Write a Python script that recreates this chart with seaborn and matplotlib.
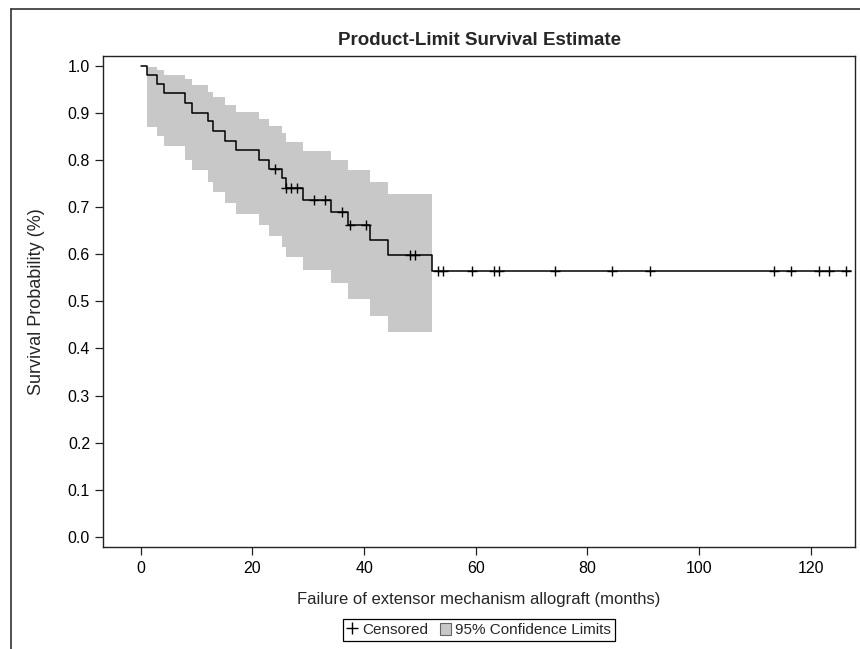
import numpy as np
import pandas as pd
import matplotlib
matplotlib.use("Agg")
import matplotlib.pyplot as plt
from matplotlib.lines import Line2D
from matplotlib.patches import Patch
import seaborn as sns


# failure times (months) and the survival estimate right after each one
event_months = [1.2, 3.0, 4.1, 7.9, 9.1, 12.1, 13.0, 15.1, 17.1, 21.1,
                23.0, 25.3, 26.0, 29.1, 34.1, 37.2, 41.1, 44.2, 52.1]
survival = [0.981, 0.962, 0.942, 0.922, 0.901, 0.882, 0.862, 0.841, 0.821, 0.801,
            0.781, 0.761, 0.740, 0.715, 0.690, 0.662, 0.630, 0.598, 0.564]

# 95% confidence limits between consecutive failures
ci_lower = [0.871, 0.851, 0.830, 0.801, 0.780, 0.754, 0.733, 0.708, 0.685,
            0.662, 0.638, 0.616, 0.594, 0.567, 0.538, 0.506, 0.468, 0.435]
ci_upper = [0.997, 0.991, 0.981, 0.972, 0.960, 0.945, 0.933, 0.917, 0.903,
            0.887, 0.872, 0.858, 0.839, 0.820, 0.800, 0.779, 0.754, 0.729]

# censored observations (months)
censored_months = [24.1, 26.1, 27.0, 28.0, 31.0, 33.0, 36.0, 37.4, 40.3, 48.2, 49.1,
                   53.3, 54.2, 59.3, 63.3, 64.1, 74.2, 84.4, 91.2, 113.4, 116.4,
                   121.4, 123.3, 126.3]
last_followup = 127.2

x_ticks = [0, 20, 40, 60, 80, 100, 120]
y_ticks = [0.0, 0.1, 0.2, 0.3, 0.4, 0.5, 0.6, 0.7, 0.8, 0.9, 1.0]


sns.set_theme(style="ticks")
plt.rcParams['font.family'] = ['Liberation Sans', 'DejaVu Sans']

km = pd.DataFrame({
    'month': [0.0] + event_months + [last_followup],
    'surv': [1.0] + survival + [survival[-1]],
})
step_vals = np.array([1.0] + survival)
cens = pd.DataFrame({'month': censored_months})
cens['surv'] = step_vals[np.searchsorted(event_months, cens['month'], side='right')]

fig = plt.figure(figsize=(8.6, 6.49), dpi=100)
ax = fig.add_axes([0.1201, 0.1576, 0.8741, 0.7561])

band_color = '#c8c8c8'
ax.fill_between(event_months, ci_lower + [ci_lower[-1]], ci_upper + [ci_upper[-1]],
                step='post', color=band_color, lw=0, zorder=1)

sns.lineplot(data=km, x='month', y='surv', drawstyle='steps-post', estimator=None,
             sort=False, color='black', lw=1.1, ax=ax, zorder=3)
sns.scatterplot(data=cens, x='month', y='surv', marker='+', s=50, color='black',
                linewidth=1.0, ax=ax, zorder=4)

ax.set_xlim(-6.7, 127.9)
ax.set_ylim(-0.021, 1.021)
ax.set_xticks(x_ticks)
ax.set_yticks(y_ticks)
ax.set_yticklabels([f'{v:.1f}' for v in y_ticks])
ax.tick_params(axis='both', direction='out', length=5.5, width=0.9, colors='#222222',
               labelsize=11.5, labelcolor='black')
ax.tick_params(axis='x', pad=5)
ax.tick_params(axis='y', pad=4)
for sp in ax.spines.values():
    sp.set_visible(True)
    sp.set_linewidth(1.0)
    sp.set_color('#222222')

ax.set_title('Product-Limit Survival Estimate', fontsize=13.5, fontweight='bold', pad=8)
ax.set_xlabel('Failure of extensor mechanism allograft (months)', fontsize=12)
ax.set_ylabel('Survival Probability (%)', fontsize=13)
ax.xaxis.set_label_coords(0.5, -0.092)
ax.yaxis.set_label_coords(-0.078, 0.5)

handles = [
    Line2D([], [], color='black', marker='+', linestyle='none', markersize=8, mew=1.0),
    Patch(facecolor=band_color, edgecolor='#666666', lw=0.8),
]
leg = fig.legend(handles, ['Censored', '95% Confidence Limits'], loc='center',
                 bbox_to_anchor=(0.557, 0.0293), ncol=2, fontsize=11, frameon=True,
                 fancybox=False, framealpha=1, edgecolor='black', handlelength=0.7,
                 handleheight=0.8, handletextpad=0.3, columnspacing=0.8, borderpad=0.25,
                 borderaxespad=0)
leg.get_frame().set_linewidth(0.9)

# outer frame of the original graphic (cut at right and bottom)
fig.add_artist(Line2D([0.0131, 0.0131], [0.0, 0.9857], transform=fig.transFigure,
                      color='#333333', lw=1.2))
fig.add_artist(Line2D([0.0131, 1.0], [0.9857, 0.9857], transform=fig.transFigure,
                      color='#333333', lw=1.2))

fig.savefig('out.png', dpi=100)
